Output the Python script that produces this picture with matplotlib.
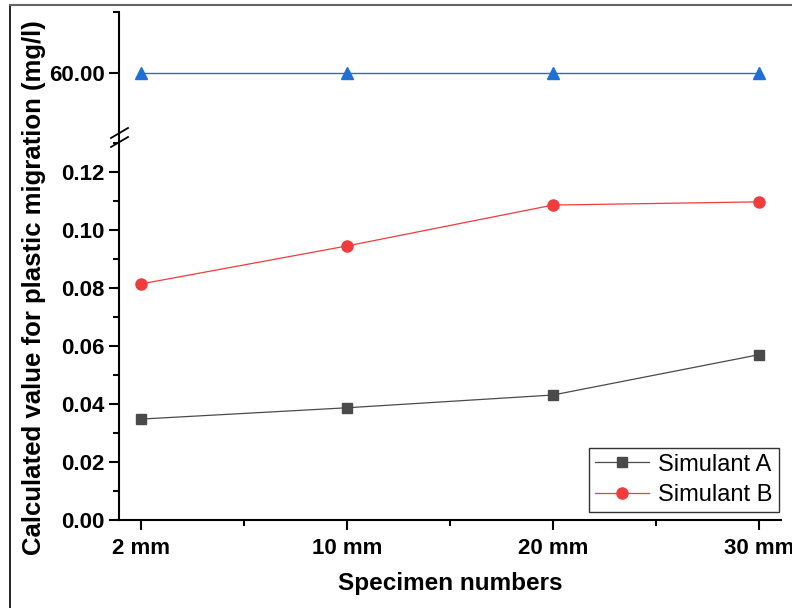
import matplotlib
matplotlib.use("Agg")
import matplotlib.pyplot as plt
from matplotlib.lines import Line2D
from matplotlib.ticker import MultipleLocator, FixedLocator

plt.rcParams["font.family"] = ["Liberation Sans", "DejaVu Sans"]

categories = ["2 mm", "10 mm", "20 mm", "30 mm"]
simulant_a = [0.0348, 0.0387, 0.0431, 0.0570]
simulant_b = [0.0814, 0.0945, 0.1086, 0.1097]
simulant_c = [60.0, 60.0, 60.0, 60.0]

W, H = 792, 608
fig = plt.figure(figsize=(W / 100, H / 100), dpi=100)


def px_axes(x0, y0, x1, y1):
    return fig.add_axes([x0 / W, 1 - y1 / H, (x1 - x0) / W, (y1 - y0) / H])


ax_top = px_axes(119, 12, 781, 134)
ax = px_axes(119, 134, 781, 520)

x = list(range(len(categories)))

for a in (ax, ax_top):
    a.set_xlim(-0.107, 3.107)
    a.spines["top"].set_visible(False)
    a.spines["right"].set_visible(False)
    a.spines["left"].set_linewidth(1.5)
    a.spines["bottom"].set_linewidth(1.5)
    a.tick_params(axis="both", which="major", length=7, width=1.5, direction="out",
                  labelsize=16)
    a.tick_params(axis="both", which="minor", length=4, width=1.5, direction="out")
    a.tick_params(axis="x", which="major", pad=6)
    a.patch.set_alpha(0)

ax_top.spines["bottom"].set_visible(False)
ax_top.tick_params(axis="x", which="both", bottom=False, labelbottom=False)

ax.plot(x, simulant_a, color="#4a4a4a", lw=0.9, marker="s", markersize=7,
        label="Simulant A")
ax.plot(x, simulant_b, color="#f03c3c", lw=0.9, marker="o", markersize=8,
        label="Simulant B")
ax_top.plot(x, simulant_c, color="#1f6fd9", lw=1.0, marker="^", markersize=9)

ax.set_ylim(0, 0.1331)
ax.yaxis.set_minor_locator(MultipleLocator(0.01))
ax.set_yticks([0, 0.02, 0.04, 0.06, 0.08, 0.10, 0.12])
ax.set_yticklabels(["0.00", "0.02", "0.04", "0.06", "0.08", "0.10", "0.12"])
ax.set_xticks(x)
ax.set_xticklabels(categories)
ax.xaxis.set_minor_locator(FixedLocator([0.5, 1.5, 2.5]))

ax_top.set_ylim(40, 80)
ax_top.set_yticks([60])
ax_top.set_yticklabels(["60.00"])
ax_top.yaxis.set_minor_locator(FixedLocator([80]))

for lab in ax.get_xticklabels() + ax.get_yticklabels() + ax_top.get_yticklabels():
    lab.set_fontweight("bold")

ax.set_xlabel("Specimen numbers", fontsize=17.5, fontweight="bold", labelpad=9)
fig.text(34 / W, 1 - 288 / H, "Calculated value for plastic migration (mg/l)",
         rotation=90, fontsize=18.5, fontweight="bold", ha="center", va="center")

leg = ax.legend(loc="lower right", bbox_to_anchor=(1.0, 0.015), fontsize=17,
                frameon=True, fancybox=False, edgecolor="black",
                handlelength=2.3, borderpad=0.25, labelspacing=0.35,
                handletextpad=0.4, borderaxespad=0.1)
leg.get_frame().set_linewidth(1.0)

# axis break marks
for yb in (133, 142):
    fig.add_artist(Line2D([111 / W, 128 / W], [1 - (yb + 5) / H, 1 - (yb - 5) / H],
                          color="black", lw=1.3))

# outer frame edges
fig.add_artist(Line2D([10 / W, 10 / W], [0, 1 - 5 / H], color="black", lw=1.2))
fig.add_artist(Line2D([10 / W, 1], [1 - 5 / H, 1 - 5 / H], color="#666666", lw=1.5))

fig.savefig("out.png", dpi=100)
